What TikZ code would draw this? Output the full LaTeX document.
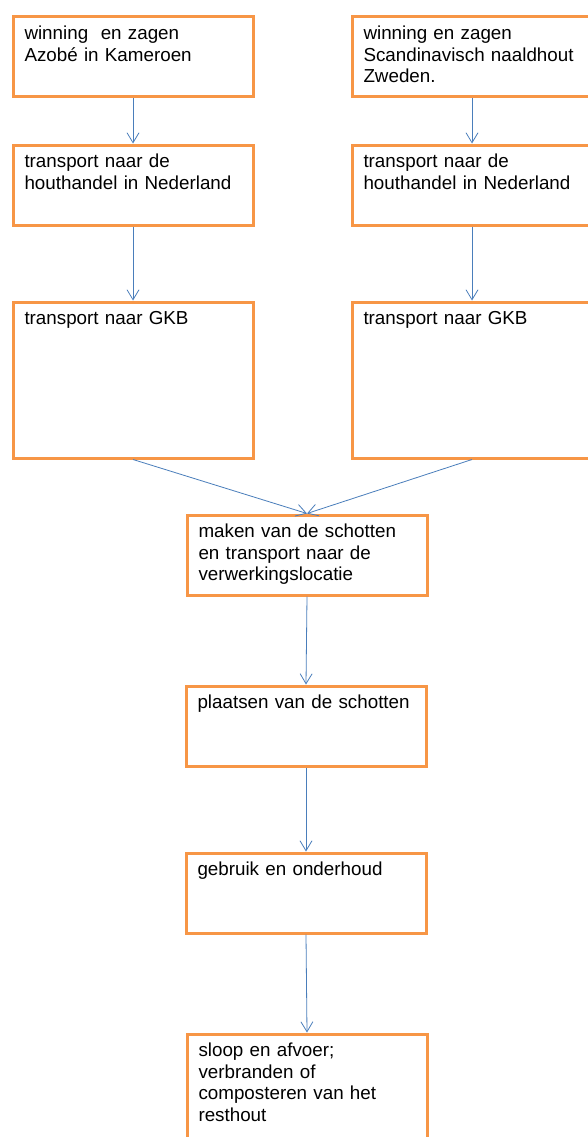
\documentclass[tikz,border=0pt]{standalone}
\usepackage{fontspec}
\setmainfont{Liberation Sans}
\usetikzlibrary{arrows.meta}
\definecolor{oranje}{HTML}{F79646}
\definecolor{blauw}{HTML}{4A7EBB}
\begin{document}
\begin{tikzpicture}[x=1pt, y=-1pt,
	stap/.style={draw=oranje, line width=3pt, anchor=north west, align=left,
		text width=217pt, inner xsep=11.5pt, inner ysep=0pt,
		text height=22.5pt, text depth=57.5pt,
		font=\fontsize{18.8}{21.7}\selectfont},
	hoog/.style={text depth=133.5pt},
	pijl/.style={draw=blauw, line width=0.8pt, -{Straight Barb[length=10pt,width=12pt]}}]
		\useasboundingbox (0,0) rectangle (588,1137);
		\clip (0,0) rectangle (588,1137);
		
		% linker keten: Azobe
		\node[stap] (a1) at (11.5,15.5) {winning\ \ en zagen\\Azobé in Kameroen};
		\node[stap] (a2) at (11.5,143.5) {transport naar de\\houthandel in Nederland};
		\node[stap, hoog] (a3) at (11.5,300.5) {transport naar GKB};
		
		% rechter keten: naaldhout
		\node[stap] (b1) at (350.5,15.5) {winning en zagen\\Scandinavisch naaldhout\\Zweden.};
		\node[stap] (b2) at (350.5,143.5) {transport naar de\\houthandel in Nederland};
		\node[stap, hoog] (b3) at (350.5,300.5) {transport naar GKB};
		
		% gezamenlijk
		\node[stap] (schotten) at (185.5,513.5) {maken van de schotten\\en transport naar de\\verwerkingslocatie};
		\node[stap] (plaatsen) at (184.5,684.5) {plaatsen van de schotten};
		\node[stap] (gebruik) at (184.5,851.5) {gebruik en onderhoud};
		\node[stap, text depth=120pt] (sloop) at (185.5,1032.5) {sloop en afvoer;\\verbranden of\\composteren van het\\resthout};
		
		\draw[pijl] (a1.south) -- (a2.north);
		\draw[pijl] (a2.south) -- (a3.north);
		\draw[pijl] (b1.south) -- (b2.north);
		\draw[pijl] (b2.south) -- (b3.north);
		\draw[pijl] (a3.south) -- (schotten.north);
		\draw[pijl] (b3.south) -- (schotten.north);
		\draw[pijl] (schotten.south) -- (plaatsen.north);
		\draw[pijl] (plaatsen.south) -- (gebruik.north);
		\draw[pijl] (gebruik.south) -- (sloop.north);
		\end{tikzpicture}
\end{document}
